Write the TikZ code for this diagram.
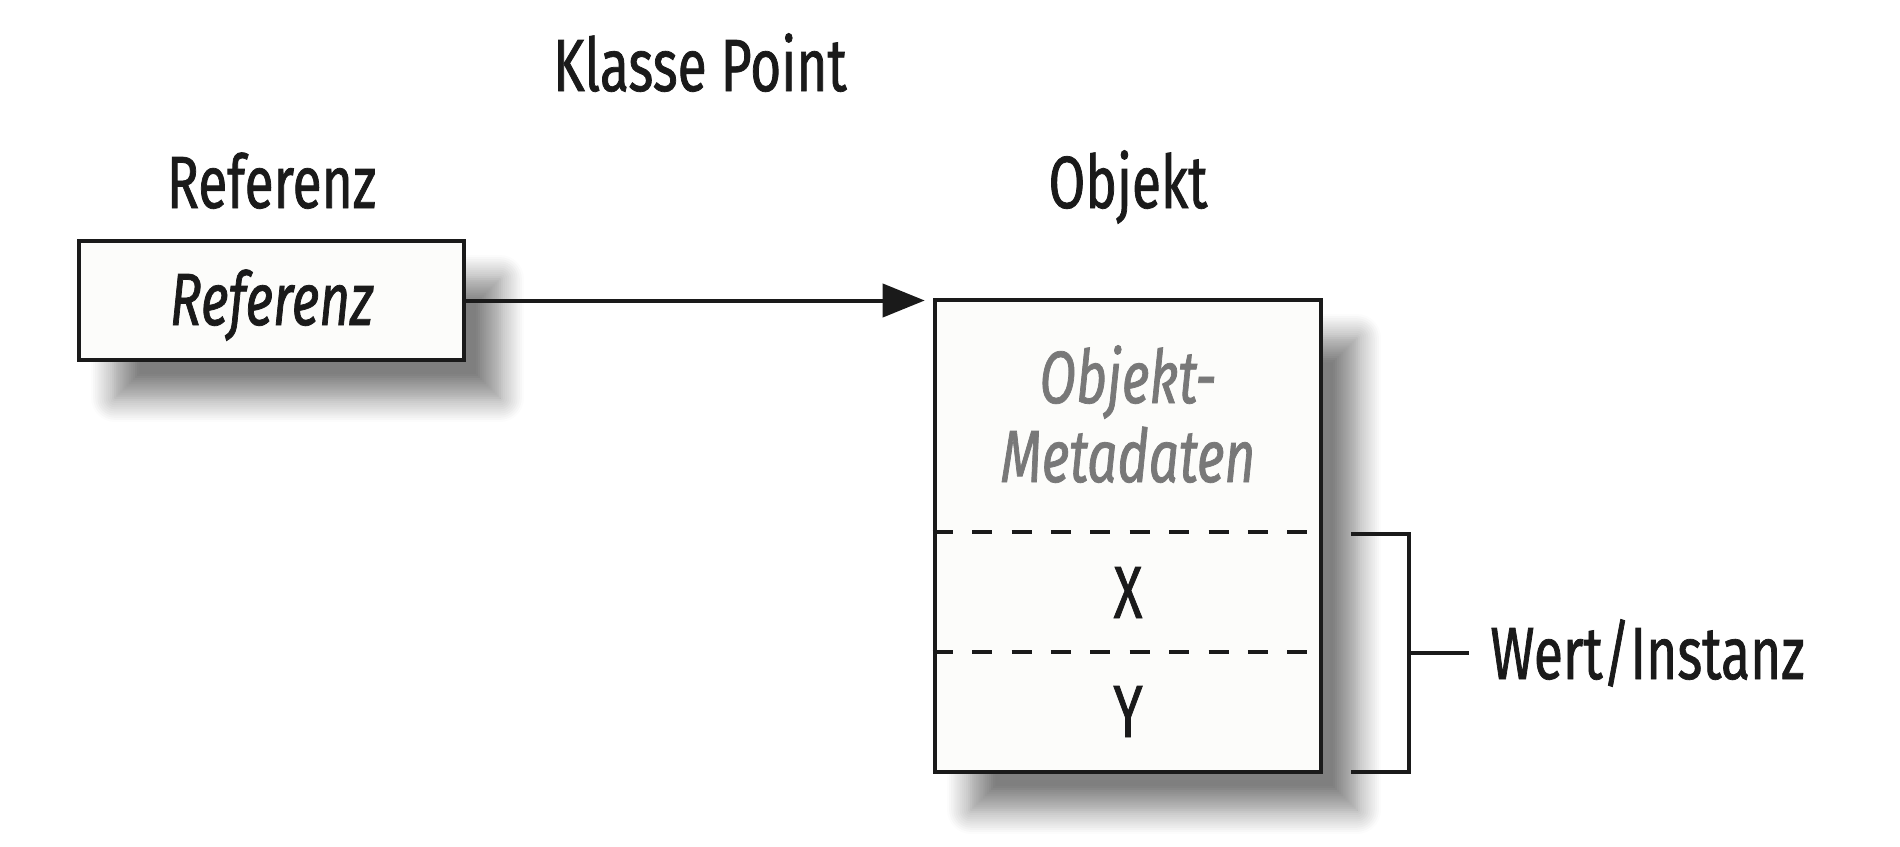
\documentclass[tikz,border=0pt]{standalone}
\usepackage{fontspec}
\setmainfont[FakeStretch=0.72, FakeBold=1]{Fira Sans}
\usetikzlibrary{arrows.meta,shadows.blur}
\definecolor{inkdark}{RGB}{26,26,26}
\definecolor{metagray}{RGB}{120,120,120}
\definecolor{boxfill}{RGB}{252,252,250}
\tikzset{
  label text/.style={font=\fontsize{37}{44}\selectfont, text=inkdark, inner sep=0pt},
  meta text/.style={label text, font=\fontsize{37}{44}\selectfont\itshape, text=metagray},
  boxshadow/.style={blur shadow={shadow xshift=18pt, shadow yshift=-19pt,
      shadow blur radius=12pt, shadow blur steps=12, shadow opacity=50}},
  refbox/.style={draw=inkdark, line width=2.3pt, fill=boxfill, boxshadow,
      minimum width=192.5pt, minimum height=59.5pt, inner sep=0pt},
  objbox/.style={draw=inkdark, line width=2.3pt, fill=boxfill, boxshadow,
      minimum width=193pt, minimum height=236pt, inner sep=0pt},
  sepline/.style={draw=inkdark, line width=2.1pt, dash pattern=on 10pt off 9.7pt},
  bracketline/.style={draw=inkdark, line width=2.1pt},
  pointer/.style={draw=inkdark, line width=2pt, -{Triangle[length=21pt, width=16.5pt]}}
}
\begin{document}
\begin{tikzpicture}[x=0.5pt, y=-0.5pt]
\useasboundingbox (0,0) rectangle (1900,846);
% headings
\node[label text, anchor=base] (klasse) at (700,91) {Klasse Point};
\node[label text, anchor=base] (reftitle) at (271.5,208) {Referenz};
\node[label text, anchor=base] (objtitle) at (1128,208) {Objekt};
% the two boxes
\node[refbox] (ref) at (271.5,300.5) {};
\node[label text, font=\fontsize{37}{44}\selectfont\itshape, anchor=base] (reftext) at (271.5,325) {Referenz};
\node[objbox] (obj) at (1128,536) {};
\draw[sepline] ([yshift=-117pt]obj.north west) -- ([yshift=-117pt]obj.north east);
\draw[sepline] ([yshift=-177pt]obj.north west) -- ([yshift=-177pt]obj.north east);
\node[meta text, anchor=base] (meta1) at (1128,403) {Objekt-};
\node[meta text, anchor=base] (meta2) at (1128,482) {Metadaten};
\node[label text, anchor=base] (xval) at (1128,618) {X};
\node[label text, anchor=base] (yval) at (1128,737) {Y};
% pointer
\draw[pointer, shorten >=4pt] (ref.east) -- (ref.east -| obj.west);
% bracket
\coordinate (brtop) at (1351,534);
\coordinate (brbot) at (1351,772);
\coordinate (brmid) at (1409,653);
\node[label text, anchor=base west] (wert) at (1490,679) {Wert/Instanz};
\draw[bracketline] (brtop) -- (brtop -| brmid) -- (brbot -| brmid) -- (brbot);
\draw[bracketline, shorten >=10.5pt] (brmid) -- (brmid -| wert.west);
\end{tikzpicture}
\end{document}
